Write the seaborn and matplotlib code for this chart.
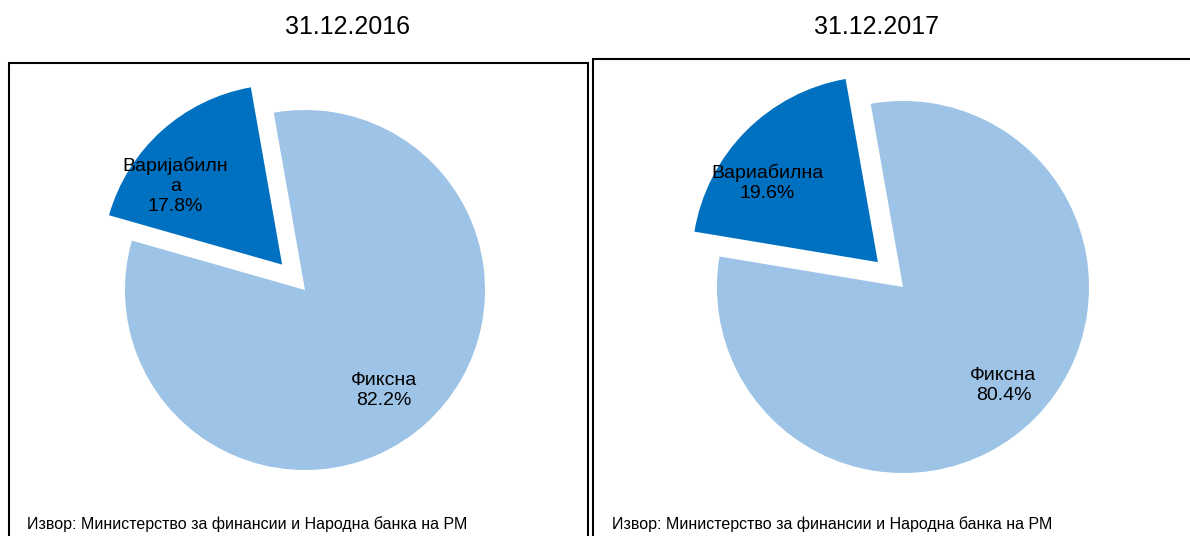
import matplotlib
matplotlib.use("Agg")
import matplotlib.pyplot as plt
import seaborn as sns
from matplotlib.patches import Rectangle

# data
dates = ["31.12.2016", "31.12.2017"]
var_labels = ["Варијабилн\nа", "Вариабилна"]
fix_labels = ["Фиксна", "Фиксна"]
variable_share = [17.8, 19.6]
fixed_share = [82.2, 80.4]
source = "Извор: Министерство за финансии и Народна банка на РМ"

sns.set_theme(style="white")
plt.rcParams['font.family'] = ['Liberation Sans', 'DejaVu Sans']

colors = ["#0070C0", "#9DC3E6"]
W, H = 1190, 536
fig = plt.figure(figsize=(W / 100, H / 100), dpi=100)

# panel geometry in pixels (image coords)
panels = [
    dict(box=(9, 63, 588), center=(305, 290), r=180, title_x=348,
         var_pos=(-0.72, 0.58), fix_pos=(0.44, -0.56), src_x=27),
    dict(box=(593, 59, 1195), center=(903, 287), r=186, title_x=876,
         var_pos=(-0.73, 0.56), fix_pos=(0.54, -0.53), src_x=612),
]

for i, p in enumerate(panels):
    x0, top, x1 = p["box"]
    fig.patches.append(Rectangle((x0 / W, -0.1), (x1 - x0) / W, (H - top) / H + 0.1,
                                 transform=fig.transFigure, fill=False,
                                 edgecolor="black", linewidth=1.5))
    fig.text(p["title_x"] / W, 1 - 27 / H, dates[i], ha="center", va="center",
             fontsize=18, color="black")

    L = 1.5
    cx, cy = p["center"]
    r = p["r"]
    size = 2 * L * r
    ax = fig.add_axes([(cx - size / 2) / W, (H - cy - size / 2) / H, size / W, size / H])
    ax.pie([variable_share[i], fixed_share[i]], colors=colors, startangle=100,
           counterclock=True, explode=[0.19, 0], radius=1,
           wedgeprops=dict(linewidth=0))
    ax.set_xlim(-L, L)
    ax.set_ylim(-L, L)
    ax.set_aspect("equal")
    ax.axis("off")
    ax.text(*p["var_pos"], f"{var_labels[i]}\n{variable_share[i]:.1f}%", ha="center",
            va="center", fontsize=14, color="black", linespacing=1.25)
    ax.text(*p["fix_pos"], f"{fix_labels[i]}\n{fixed_share[i]:.1f}%", ha="center",
            va="center", fontsize=14, color="black", linespacing=1.25)

    fig.text(p["src_x"] / W, 1 - 524 / H, source, ha="left", va="center",
             fontsize=11.5, color="black")

fig.savefig("out.png", dpi=100)
